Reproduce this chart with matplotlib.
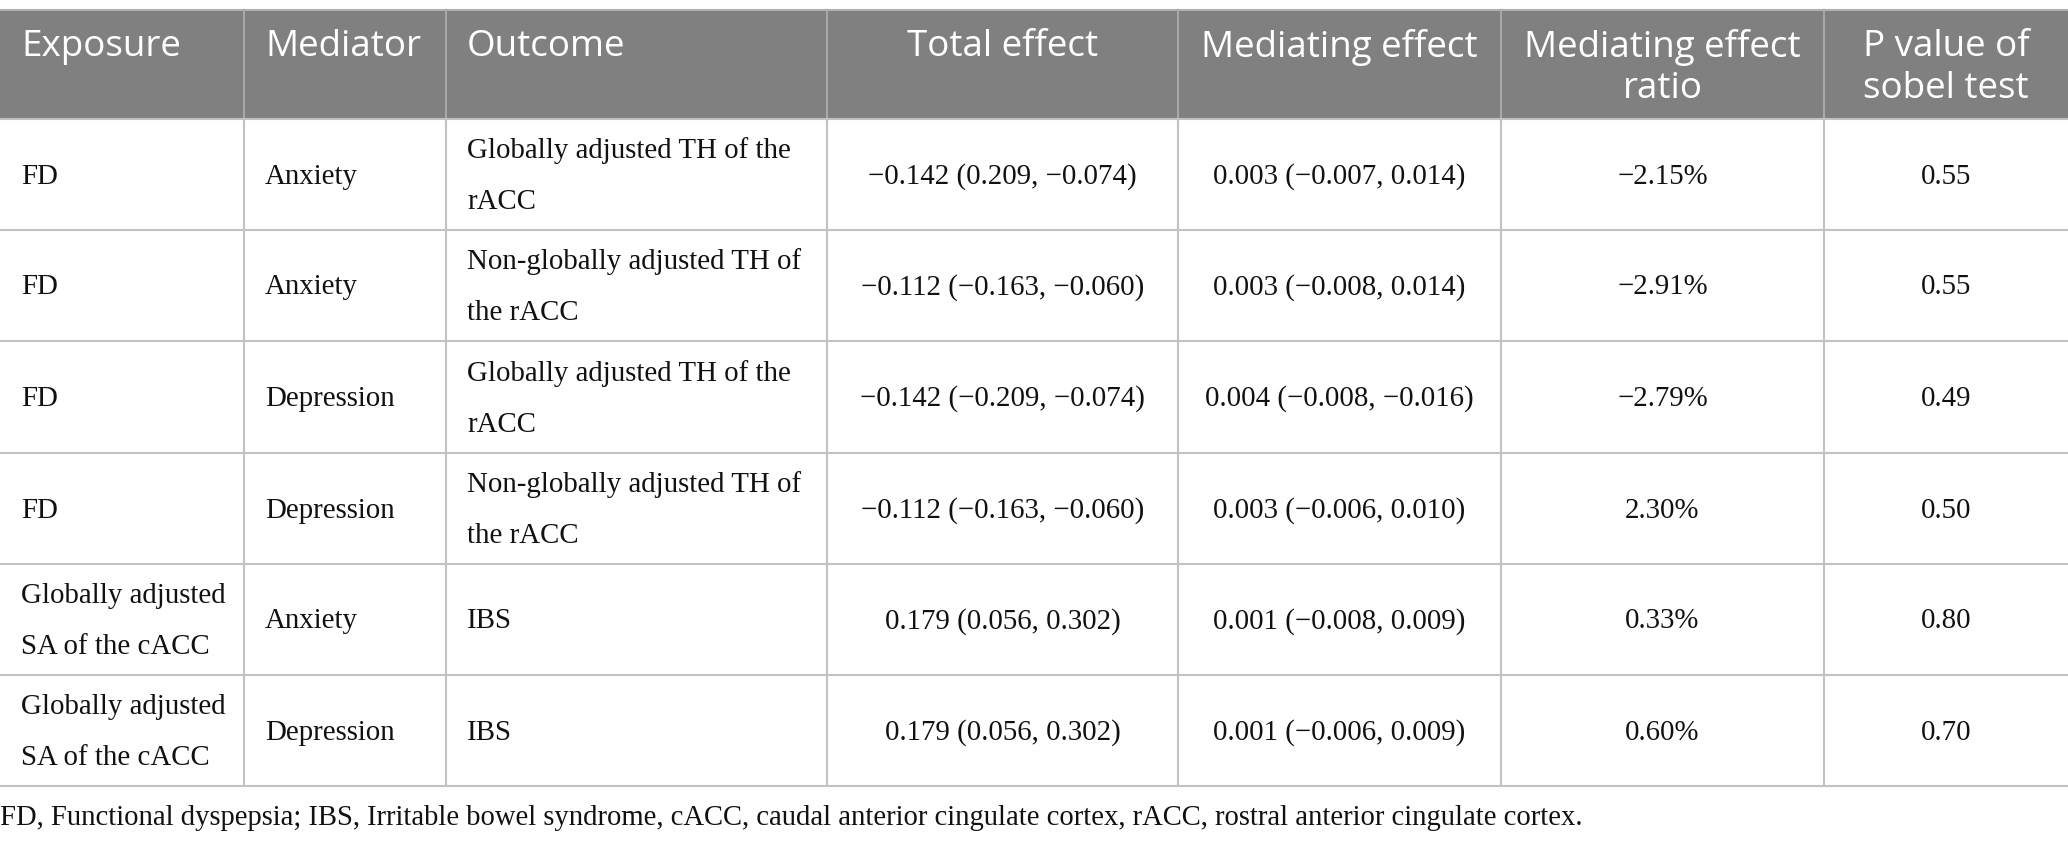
import matplotlib
matplotlib.use("Agg")
import matplotlib.pyplot as plt
from matplotlib.patches import Rectangle

# table content
headers = ["Exposure", "Mediator", "Outcome", "Total effect", "Mediating effect",
           "Mediating effect\nratio", "P value of\nsobel test"]
exposure = ["FD", "FD", "FD", "FD",
            "Globally adjusted\nSA of the cACC", "Globally adjusted\nSA of the cACC"]
mediator = ["Anxiety", "Anxiety", "Depression", "Depression", "Anxiety", "Depression"]
outcome = ["Globally adjusted TH of the\nrACC", "Non-globally adjusted TH of\nthe rACC",
           "Globally adjusted TH of the\nrACC", "Non-globally adjusted TH of\nthe rACC",
           "IBS", "IBS"]
total_effect = ["\u22120.142 (0.209, \u22120.074)", "\u22120.112 (\u22120.163, \u22120.060)",
                "\u22120.142 (\u22120.209, \u22120.074)", "\u22120.112 (\u22120.163, \u22120.060)",
                "0.179 (0.056, 0.302)", "0.179 (0.056, 0.302)"]
mediating_effect = ["0.003 (\u22120.007, 0.014)", "0.003 (\u22120.008, 0.014)",
                    "0.004 (\u22120.008, \u22120.016)", "0.003 (\u22120.006, 0.010)",
                    "0.001 (\u22120.008, 0.009)", "0.001 (\u22120.006, 0.009)"]
effect_ratio = ["\u22122.15%", "\u22122.91%", "\u22122.79%", "2.30%", "0.33%", "0.60%"]
p_sobel = ["0.55", "0.55", "0.49", "0.50", "0.80", "0.70"]
footnote = ("FD, Functional dyspepsia; IBS, Irritable bowel syndrome, cACC, caudal anterior "
            "cingulate cortex, rACC, rostral anterior cingulate cortex.")

columns = [exposure, mediator, outcome, total_effect, mediating_effect, effect_ratio, p_sobel]
aligns = ["left", "left", "left", "center", "center", "center", "center"]

# layout (pixels)
W, H = 2068, 843
col_edges = [0, 244, 446, 827, 1178, 1501, 1824, 2068]
row_edges = [10, 119, 230, 341, 453, 564, 675, 786]
pad = 21
line_gap = 51
head_col = "#808080"
grid_col = "#c2c2c2"
serif = ["Liberation Serif", "DejaVu Serif"]
sans = ["Open Sans", "DejaVu Sans"]
body_size = 20.8
head_size = 26.5

fig = plt.figure(figsize=(W / 100, H / 100), dpi=100)
ax = fig.add_axes([0, 0, 1, 1])
ax.set_xlim(0, W)
ax.set_ylim(H, 0)
ax.axis("off")

# header band
ax.add_patch(Rectangle((0, row_edges[0]), W, row_edges[1] - row_edges[0],
                       facecolor=head_col, edgecolor="none"))
ax.plot([0, W], [row_edges[0], row_edges[0]], color="#b0b0b0", lw=1.5)

for j, h in enumerate(headers):
    x0, x1 = col_edges[j], col_edges[j + 1]
    x = x0 + pad if aligns[j] == "left" else (x0 + x1) / 2
    for k, line in enumerate(h.split("\n")):
        ax.text(x, row_edges[0] + 37 + k * 42, line, ha=aligns[j], va="center",
                color="white", fontsize=head_size, family=sans)

# grid lines
for y in row_edges[1:]:
    ax.plot([0, W], [y, y], color=grid_col, lw=1.5)
for j, x in enumerate(col_edges[1:-1]):
    ax.plot([x, x], [row_edges[0], row_edges[1]], color="#a8a8a8", lw=1.5)
    ax.plot([x, x], [row_edges[1], row_edges[-1]], color=grid_col, lw=1.5)

# body cells
for i in range(len(exposure)):
    yc = (row_edges[i + 1] + row_edges[i + 2]) / 2 + 2
    for j, col in enumerate(columns):
        x0, x1 = col_edges[j], col_edges[j + 1]
        x = x0 + pad if aligns[j] == "left" else (x0 + x1) / 2
        lines = col[i].split("\n")
        n = len(lines)
        for k, line in enumerate(lines):
            y = yc + (k - (n - 1) / 2) * line_gap
            ax.text(x, y, line, ha=aligns[j], va="center", color="#111111",
                    fontsize=body_size, family=serif)

ax.text(0, 818, footnote, ha="left", va="center", color="#111111",
        fontsize=20.6, family=serif)

fig.savefig("out.png", dpi=100, facecolor="white")
